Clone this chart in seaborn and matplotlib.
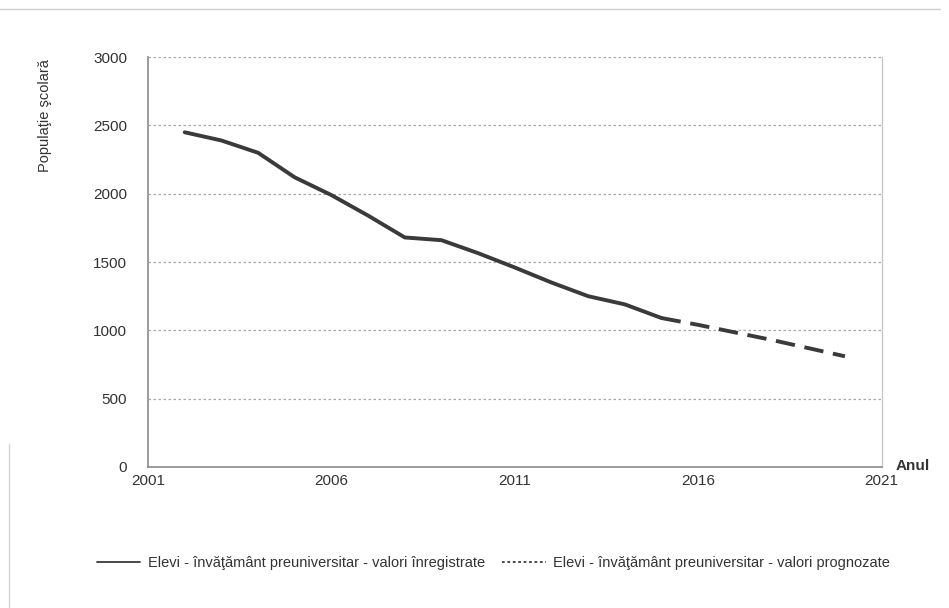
import pandas as pd
import matplotlib
matplotlib.use('Agg')
import matplotlib.pyplot as plt
import seaborn as sns
from matplotlib.lines import Line2D

# valori
ani_inreg = [2002, 2003, 2004, 2005, 2006, 2007, 2008, 2009, 2010, 2011, 2012, 2013, 2014, 2015]
elevi_inreg = [2450, 2390, 2300, 2120, 1990, 1840, 1680, 1660, 1565, 1460, 1350, 1250, 1190, 1090]
ani_progn = [2015, 2016, 2017, 2018, 2019, 2020]
elevi_progn = [1090, 1040, 985, 930, 870, 810]

lbl_inreg = 'Elevi - învăţământ preuniversitar - valori înregistrate'
lbl_progn = 'Elevi - învăţământ preuniversitar - valori prognozate'

df1 = pd.DataFrame({'an': ani_inreg, 'elevi': elevi_inreg})
df2 = pd.DataFrame({'an': ani_progn, 'elevi': elevi_progn})

sns.set_style('white')
plt.rcParams['font.family'] = ['Liberation Sans', 'DejaVu Sans']

fig = plt.figure(figsize=(9.49, 6.08), dpi=100)
ax = fig.add_axes([0.156, 0.232, 0.773, 0.674])

sns.lineplot(data=df1, x='an', y='elevi', ax=ax, color='#3a3a3a', linewidth=2.8)
sns.lineplot(data=df2, x='an', y='elevi', ax=ax, color='#3a3a3a', linewidth=2.8,
             linestyle=(0, (5, 2.5)))

ax.set_xlim(2001, 2021)
ax.set_ylim(0, 3000)
ax.set_xticks([2001, 2006, 2011, 2016, 2021])
ax.set_yticks(range(0, 3001, 500))
for v in range(500, 3001, 500):
    ax.axhline(v, color='#a8a8a8', linestyle=(0, (2, 2)), linewidth=0.9, zorder=0)

ax.tick_params(axis='both', labelsize=11, colors='#333333', length=3, width=0.8)
ax.tick_params(axis='x', pad=2)
ax.tick_params(axis='y', pad=12)
for s in ['left', 'bottom']:
    ax.spines[s].set_color('#8a8a8a')
    ax.spines[s].set_linewidth(1.2)
ax.spines['top'].set_visible(False)
ax.spines['right'].set_color('#c8c8c8')
ax.spines['right'].set_linewidth(1.0)

ax.set_xlabel('')
ax.set_ylabel('')
fig.text(0.047, 0.81, 'Populaţie şcolară', rotation=90, ha='center', va='center',
         fontsize=10.5, color='#333333')
fig.text(0.944, 0.234, 'Anul', ha='left', va='center', fontsize=11,
         fontweight='bold', color='#333333')

handles = [Line2D([], [], color='#3a3a3a', linewidth=1.3),
           Line2D([], [], color='#3a3a3a', linewidth=1.3, linestyle=(0, (1.5, 1.5)))]
fig.legend(handles, [lbl_inreg, lbl_progn], loc='center', bbox_to_anchor=(0.52, 0.074),
           ncol=2, frameon=False, fontsize=10.5, handlelength=3.0, columnspacing=1.2,
           handletextpad=0.5, labelcolor='#333333')

# chenarul paginii
fig.add_artist(Line2D([0.0, 0.99], [0.985, 0.985], color='#cfcfcf', linewidth=1.0))
fig.add_artist(Line2D([0.01, 0.01], [0.0, 0.27], color='#d5d5d5', linewidth=1.0))

fig.savefig('out.png', dpi=100)
